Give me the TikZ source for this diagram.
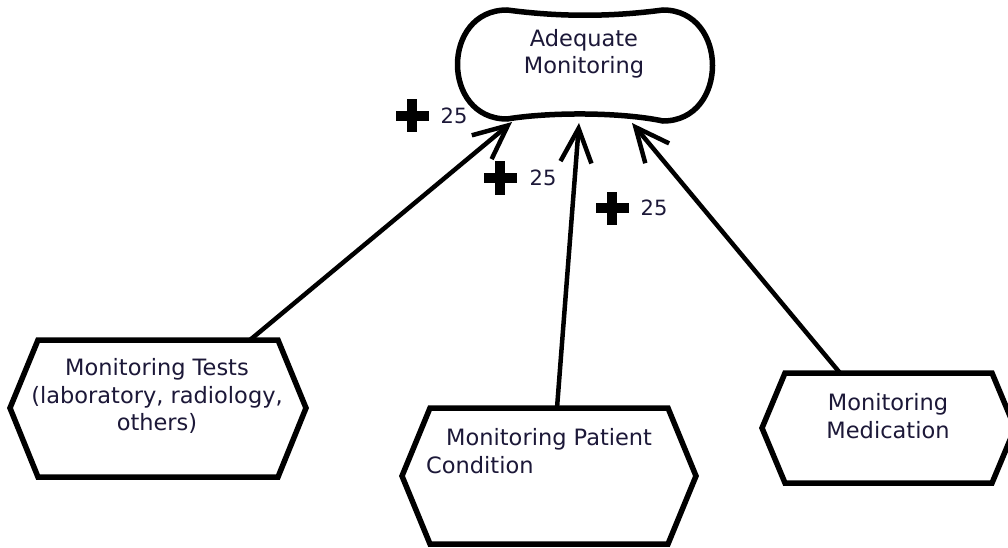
\documentclass[tikz,border=0pt]{standalone}
\usepackage{fontspec}
\setmainfont{DejaVu Sans}
\usetikzlibrary{arrows.meta}
\definecolor{txt}{RGB}{28,24,56}
\begin{document}
\begin{tikzpicture}[x=1pt,y=-1pt,
  shapeline/.style={line width=5.5pt, line join=miter, fill=white, draw=black},
  link/.style={line width=4.5pt, draw=black, -{Straight Barb[length=34pt,width=31pt]}},
  lbl/.style={font=\fontsize{22.5}{27.5}\selectfont, text=txt, inner sep=0pt},
  num/.style={font=\fontsize{21}{25}\selectfont, text=txt, inner sep=0pt},
  plussign/.style={minimum size=35pt, inner sep=0pt, draw=none,
    path picture={
      \fill[black] ([xshift=-16.5pt,yshift=-5pt]path picture bounding box.center) rectangle ([xshift=16.5pt,yshift=5pt]path picture bounding box.center);
      \fill[black] ([xshift=-5pt,yshift=-16.5pt]path picture bounding box.center) rectangle ([xshift=5pt,yshift=16.5pt]path picture bounding box.center);
    }}
]
\useasboundingbox[fill=white] (0,0) rectangle (1008,548);

% goal shape
\draw[shapeline] (507,10) .. controls (560,17) and (610,17) .. (663,10)
  .. controls (729,10) and (729,121) .. (663,121)
  .. controls (620,112) and (550,112) .. (507,119)
  .. controls (441,119) and (441,10) .. (507,10) -- cycle;
\node[lbl, align=center] (adq) at (584,54) {Adequate\\Monitoring};

% hexagons
\draw[shapeline] (10,408) -- (38,340) -- (278,340) -- (306,408) -- (278,477) -- (38,477) -- cycle;
\node[lbl, align=center] (tests) at (157,396) {Monitoring Tests\\(laboratory, radiology,\\others)};

\draw[shapeline] (402,476) -- (430,408) -- (668,408) -- (696,476) -- (668,544) -- (430,544) -- cycle;
\node[lbl, align=left, anchor=west] (patient) at (426,451) {\hspace*{20pt}Monitoring Patient\\Condition};

\draw[shapeline] (762,428) -- (785,373) -- (992,373) -- (1015,428) -- (992,483) -- (785,483) -- cycle;
\node[lbl, align=center] (med) at (888,416) {Monitoring\\Medication};

% connector end points
\coordinate (testsTop) at (250,340);
\coordinate (patientTop) at (557,408);
\coordinate (medTop) at (840,373);
\coordinate (adqIn1) at (512,122);
\coordinate (adqIn2) at (579,123);
\coordinate (adqIn3) at (632,123);

\draw[link] (testsTop) -- (adqIn1);
\draw[link] (patientTop) -- (adqIn2);
\draw[link] (medTop) -- (adqIn3);

% labels
\node[plussign] (p1) at (412,116) {};
\node[num] (n1) at (454,116) {25};
\node[plussign] (p2) at (500,178) {};
\node[num] (n2) at (543,178) {25};
\node[plussign] (p3) at (612,208) {};
\node[num] (n3) at (654,208) {25};
\end{tikzpicture}
\end{document}
